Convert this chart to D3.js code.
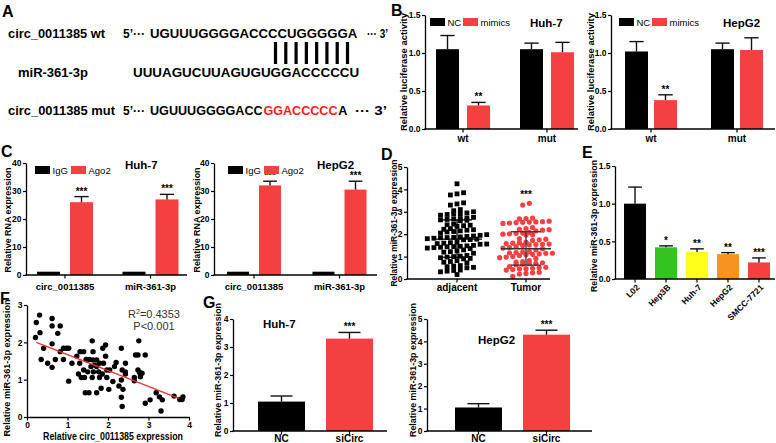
<!DOCTYPE html>
<html><head><meta charset="utf-8">
<script src="https://cdn.jsdelivr.net/npm/d3@7"></script>
<style>
body{margin:0;background:#fff}
svg{display:block;font-family:"Liberation Sans",Arial,sans-serif}
</style></head><body>
<svg id="c" width="776" height="443"></svg>
<script>
// ---------------- DATA ----------------
// Panel A sequences
const seqWt = "UGUUUGGGGACCCCUGGGGGA";
const seqMir = "UUUAGUCUUAGUGUGGACCCCCU";
const seqMut = ["UGUUUGGGGACC", "GGACCCCC", "A"];

// Panel B luciferase
const bGroups = ["wt", "mut"];
const bSeries = ["NC", "mimics"];
const bHuhNC = [1.05, 1.05], bHuhNCErr = [1.23, 1.13];
const bHuhMim = [0.31, 1.01], bHuhMimErr = [0.35, 1.14];
const bHepNC = [1.02, 1.05], bHepNCErr = [1.15, 1.13];
const bHepMim = [0.38, 1.04], bHepMimErr = [0.45, 1.20];
const bStars = ["**", ""];
const bTicks = [0, 0.5, 1.0, 1.5];

// Panel C RIP
const cGroups = ["circ_0011385", "miR-361-3p"];
const cSeries = ["IgG", "Ago2"];
const cHuhIgG = [1.0, 1.0];
const cHuhAgo = [26, 27], cHuhAgoErr = [28, 28.8];
const cHepIgG = [1.0, 1.0];
const cHepAgo = [32, 30.5], cHepAgoErr = [33.5, 33.5];
const cStars = ["***", "***"];
const cTicks = [0, 10, 20, 30, 40];

// Panel D tissue scatter
const dGroups = ["adjacent", "Tumor"];
const dAdjacent = [4.25,3.85,3.8,3.75,3.4,3.35,3.3,3.1,3.05,3.0,2.95,2.92,2.9,2.88,2.85,2.75,2.72,2.7,2.68,2.66,2.64,2.62,2.6,2.45,2.42,2.4,2.38,2.35,2.25,2.22,2.2,2.18,2.15,2.12,2.1,2.05,1.98,1.95,1.92,1.9,1.88,1.86,1.85,1.84,1.82,1.8,1.78,1.76,1.75,1.65,1.62,1.6,1.58,1.56,1.55,1.5,1.48,1.46,1.45,1.44,1.42,1.4,1.38,1.36,1.3,1.25,1.22,1.2,1.15,1.05,1.02,1.0,0.98,0.95,0.92,0.9,0.82,0.78,0.75,0.72,0.6,0.58,0.55,0.52,0.5,0.4,0.38,0.35,0.32,0.2];
const dTumor = [3.38,3.3,2.72,2.7,2.68,2.58,2.56,2.55,2.54,2.53,2.52,2.5,2.48,2.3,2.25,2.22,2.2,2.18,2.15,2.08,2.05,2.04,2.02,2.0,1.98,1.96,1.8,1.78,1.75,1.72,1.65,1.62,1.6,1.58,1.56,1.55,1.54,1.52,1.5,1.45,1.4,1.38,1.35,1.3,1.22,1.2,1.18,1.16,1.15,1.14,1.12,1.1,1.08,1.05,1.0,0.98,0.95,0.92,0.82,0.78,0.75,0.72,0.7,0.68,0.66,0.64,0.55,0.52,0.5,0.48,0.46,0.45,0.42,0.4,0.3,0.28,0.25,0.22,0.12];
const dMean = [1.78, 1.35];
const dSdLow = [0.97, 0.62];
const dSdHigh = [2.64, 2.11];
const dTicks = [0, 1, 2, 3, 4, 5];

// Panel E cell lines
const eCells = ["L02", "Hep3B", "Huh-7", "HepG2", "SMCC-7721"];
const eValues = [1.0, 0.42, 0.36, 0.33, 0.22];
const eErr = [1.22, 0.44, 0.40, 0.35, 0.28];
const eStars = ["", "*", "**", "**", "***"];
const eColors = ["#000000", "#33c41f", "#ffff1a", "#f7931e", "#f44040"];
const eTicks = [0, 0.5, 1.0, 1.5];

// Panel F correlation
const fPoints = [[0.23,2.53],[0.31,2.73],[0.21,2.13],[0.32,2.26],[0.41,1.84],[0.35,1.54],[0.51,1.44],[0.62,2.64],[0.62,2.44],[0.62,1.96],[0.62,1.33],[0.70,1.54],[0.76,2.24],[0.82,2.44],[0.82,1.75],[0.90,1.84],[0.90,1.54],[0.97,1.84],[1.03,1.84],[1.03,0.96],[1.11,1.44],[1.23,1.63],[1.31,1.75],[1.40,1.75],[1.27,1.15],[1.34,1.06],[1.30,1.44],[1.42,1.06],[1.44,0.65],[1.53,0.65],[1.40,1.26],[1.50,1.21],[1.61,2.04],[1.63,1.75],[1.63,1.53],[1.58,1.35],[1.67,1.39],[1.64,1.21],[1.61,1.06],[1.72,1.53],[1.72,1.35],[1.79,1.44],[1.77,1.21],[1.79,1.06],[1.72,0.65],[1.83,0.77],[1.87,1.84],[1.94,1.93],[1.89,1.44],[1.94,1.63],[1.97,1.26],[1.97,1.06],[1.86,1.15],[2.04,1.26],[2.02,0.74],[2.12,0.95],[2.20,1.46],[2.27,0.83],[2.33,1.84],[2.35,1.26],[2.33,0.99],[2.33,0.53],[2.37,0.74],[2.35,0.28],[2.43,1.44],[2.43,1.21],[2.43,1.15],[2.65,1.06],[2.65,0.97],[2.68,1.66],[2.74,1.66],[2.76,2.04],[2.74,1.26],[2.78,1.19],[2.80,1.08],[2.84,1.17],[2.92,1.66],[2.92,0.37],[3.04,0.46],[3.19,0.65],[3.27,0.54],[3.34,0.46],[3.31,0.16],[3.85,0.54],[3.77,0.47],[3.83,0.47],[1.54,1.54],[1.46,1.54],[2.16,1.35],[3.63,0.56]];
const fFit = [[0.23, 2.0], [3.75, 0.5]];
const fXTicks = [0, 1, 2, 3, 4];
const fYTicks = [0, 1, 2, 3];

// Panel G knockdown
const gGroups = ["NC", "siCirc"];
const gHuh = [1.05, 3.3], gHuhErr = [1.25, 3.52];
const gHep = [1.05, 4.3], gHepErr = [1.22, 4.5];
const gStars = ["", "***"];
const gHuhTicks = [0, 1, 2, 3, 4];
const gHepTicks = [0, 1, 2, 3, 4, 5];

// ---------------- DRAWING ----------------
const RED = "#f44040";
const FONT = '"Liberation Sans",Arial,sans-serif';
const svg = d3.select("#c");

function txt(x, y, s, o = {}) {
  const t = svg.append("text").attr("x", x).attr("y", y).text(s)
    .attr("font-size", o.size || 10).attr("font-weight", o.weight || "bold")
    .attr("fill", o.fill || "#000").attr("text-anchor", o.anchor || "start");
  if (o.len) t.attr("textLength", o.len).attr("lengthAdjust", "spacingAndGlyphs");
  if (o.rot) t.attr("transform", `rotate(${o.rot},${x},${y})`);
  return t;
}

function yAxis(x, y, ticks, fmt) {
  const g = svg.append("g").attr("transform", `translate(${x},0)`)
    .call(d3.axisLeft(y).tickValues(ticks).tickFormat(fmt).tickSize(3).tickSizeOuter(0).tickPadding(1.5));
  g.attr("font-family", FONT);
  g.select(".domain").attr("stroke", "#000").attr("stroke-width", 1.3);
  g.selectAll(".tick line").attr("stroke", "#000").attr("stroke-width", 1.2);
  g.selectAll(".tick text").attr("font-size", 8.5).attr("font-weight", "bold").attr("fill", "#000");
}

function xAxis(x0, x1, y0, positions, labels, labelY, size) {
  svg.append("line").attr("x1", x0 - 0.6).attr("x2", x1).attr("y1", y0).attr("y2", y0)
    .attr("stroke", "#000").attr("stroke-width", 1.3);
  svg.append("g").selectAll("line").data(positions).join("line")
    .attr("x1", d => d).attr("x2", d => d).attr("y1", y0).attr("y2", y0 + 3.5)
    .attr("stroke", "#000").attr("stroke-width", 1.2);
  if (labels) svg.append("g").selectAll("text").data(labels).join("text")
    .attr("x", (d, i) => positions[i]).attr("y", labelY).text(d => d)
    .attr("text-anchor", "middle").attr("font-size", size || 9.5).attr("font-weight", "bold");
}

function bars(xs, vals, errs, y, w, color, stars, cap) {
  const g = svg.append("g");
  g.selectAll("rect").data(vals).join("rect")
    .attr("x", (d, i) => xs[i] - w / 2).attr("width", w)
    .attr("y", d => y(d)).attr("height", d => y(0) - y(d))
    .attr("fill", color);
  const c = cap || Math.min(w * 0.62, 16);
  g.selectAll(".ev").data(errs).join("line").attr("class", "ev")
    .attr("x1", (d, i) => xs[i]).attr("x2", (d, i) => xs[i])
    .attr("y1", (d, i) => y(vals[i])).attr("y2", d => y(d))
    .attr("stroke", "#111").attr("stroke-width", 1.4);
  g.selectAll(".ec").data(errs).join("line").attr("class", "ec")
    .attr("x1", (d, i) => xs[i] - c / 2).attr("x2", (d, i) => xs[i] + c / 2)
    .attr("y1", d => y(d)).attr("y2", d => y(d))
    .attr("stroke", "#111").attr("stroke-width", 1.4);
  if (stars) g.selectAll(".st").data(stars).join("text").attr("class", "st")
    .attr("x", (d, i) => xs[i]).attr("y", (d, i) => y(errs[i]) - 2).text(d => d)
    .attr("text-anchor", "middle").attr("font-size", 10).attr("font-weight", "bold");
}

function legend(y, items) {
  items.forEach(it => {
    svg.append("rect").attr("x", it.x).attr("y", y).attr("width", 15).attr("height", 8).attr("fill", it.color);
    txt(it.x + 17.5, y + 8, it.label, { size: 9.5, weight: "normal" });
  });
}

// Panel letters
[["A", 2, 17], ["B", 391, 16], ["C", 1, 157], ["D", 381, 160], ["E", 582, 158], ["F", 0, 304], ["G", 203, 308]]
  .forEach(([s, x, y]) => txt(x, y, s, { size: 16 }));

// ---------- Panel A ----------
txt(8, 38, "circ_0011385 wt", { size: 12.5, len: 97 });
txt(18, 77, "miR-361-3p", { size: 12.5, len: 70 });
txt(8, 115, "circ_0011385 mut", { size: 12.5, len: 107 });
[38, 115].forEach(y => { txt(123, y, "5’···", { size: 12.5, len: 22 }); });
txt(367, 38, "··· 3’", { size: 12.5, len: 21 });
txt(355, 115, "··· 3’", { size: 12.5, len: 32 });
txt(150, 38, seqWt, { size: 13.2 });
txt(133, 77, seqMir, { size: 13.4 });
{
  const cols = ["#000", "#ff1a1a", "#000"];
  const em = { U: 0.722, G: 0.778, A: 0.722, C: 0.722 };
  const fs = 12.6;
  let x = 150;
  seqMut.forEach((s, i) => {
    txt(x, 115, s, { size: fs, fill: cols[i] });
    x += d3.sum(s.split(""), ch => em[ch]) * fs + 0.7;
  });
  const pairX = d3.scaleLinear().domain([0, 7]).range([275.5, 347.5]);
  svg.append("g").selectAll("rect").data(d3.range(8)).join("rect")
    .attr("x", d => pairX(d) - 1.6).attr("width", 3.2).attr("y", 42).attr("height", 22).attr("fill", "#000");
}

// ---------- Panel B ----------
function panelB(axX, axEnd, c1, c2, off, w, nc, ncE, mi, miE, title, titleX, legX, labX, labLen) {
  const y = d3.scaleLinear().domain([0, 1.5]).range([129, 15]);
  const gx = d3.scalePoint().domain(bGroups).range([c1, c2]);
  const cx = bGroups.map(g => gx(g));
  bars(cx.map(c => c - off), nc, ncE, y, w, "#000", null);
  bars(cx.map(c => c + off), mi, miE, y, w, RED, bStars);
  yAxis(axX, y, bTicks, d3.format(".1f"));
  xAxis(axX, axEnd, 129, cx, bGroups, 142, 10);
  legend(18, [{ x: legX, color: "#000", label: bSeries[0] }, { x: legX + 33, color: RED, label: bSeries[1] }]);
  txt(titleX, 27, title, { size: 11.5 });
  txt(labX, 72, "Relative luciferase activity", { size: 9.5, rot: -90, anchor: "middle", len: labLen });
}
panelB(425, 578, 463, 547, 15.5, 23, bHuhNC, bHuhNCErr, bHuhMim, bHuhMimErr, "Huh-7", 530, 430, 407, 118);
panelB(611, 775, 651, 737, 14.5, 23, bHepNC, bHepNCErr, bHepMim, bHepMimErr, "HepG2", 723, 619, 594, 118);

// ---------- Panel C ----------
function panelC(axX, axEnd, c1, c2, off, w, ig, ag, agE, title, titleX, legX, labX) {
  const y = d3.scaleLinear().domain([0, 40]).range([275, 163]);
  const gx = d3.scalePoint().domain(cGroups).range([c1, c2]);
  const cx = cGroups.map(g => gx(g));
  const igx = cx.map(c => c - off);
  svg.append("g").selectAll("rect").data(ig).join("rect")
    .attr("x", (d, i) => igx[i] - w / 2).attr("width", w)
    .attr("y", d => y(d) - 0.5).attr("height", d => y(0) - y(d) + 0.5).attr("fill", "#000");
  bars(cx.map(c => c + off), ag, agE, y, w, RED, cStars);
  yAxis(axX, y, cTicks, d3.format("d"));
  xAxis(axX, axEnd, 275, cx, cGroups, 290, 9.5);
  legend(166, [{ x: legX, color: "#000", label: cSeries[0] }, { x: legX + 36, color: RED, label: cSeries[1] }]);
  txt(titleX, 169, title, { size: 11.5 });
  txt(labX, 220, "Relative RNA expression", { size: 9.5, rot: -90, anchor: "middle", len: 105 });
}
panelC(26, 187, 65, 150.5, 16.5, 23, cHuhIgG, cHuhAgo, cHuhAgoErr, "Huh-7", 125, 35, 11);
panelC(214, 377, 254, 339.5, 16, 22, cHepIgG, cHepAgo, cHepAgoErr, "HepG2", 317, 228, 200);

// ---------- Panel D ----------
{
  const y = d3.scaleLinear().domain([0, 5]).range([279, 167]);
  const gx = d3.scalePoint().domain(dGroups).range([457, 526]);
  const bin = 0.21, sp = 6.6;
  function swarm(vals, cx) {
    const rows = d3.group(vals.map((v, i) => ({ v, i })), d => Math.round(d.v / bin));
    const out = [];
    for (const [, arr] of rows) {
      arr.sort((a, b) => a.v - b.v);
      const n = arr.length;
      arr.forEach((d, k) => out.push({ v: d.v, x: cx + (k - (n - 1) / 2) * sp }));
    }
    return out;
  }
  const adj = swarm(dAdjacent, gx(dGroups[0]));
  svg.append("g").selectAll("rect").data(adj).join("rect")
    .attr("x", d => d.x - 2.4).attr("y", d => y(d.v) - 2.4).attr("width", 4.8).attr("height", 4.8).attr("fill", "#000");
  const tum = swarm(dTumor, gx(dGroups[1]));
  svg.append("g").selectAll("circle").data(tum).join("circle")
    .attr("cx", d => d.x).attr("cy", d => y(d.v)).attr("r", 2.6).attr("fill", RED);
  dGroups.forEach((g, i) => {
    const cx = gx(g);
    const s = svg.append("g").attr("stroke", i ? "#333" : "#000").attr("stroke-width", 1.3);
    s.append("line").attr("x1", cx - 25).attr("x2", cx + 25).attr("y1", y(dMean[i])).attr("y2", y(dMean[i]));
    s.append("line").attr("x1", cx).attr("x2", cx).attr("y1", y(dSdLow[i])).attr("y2", y(dSdHigh[i]));
    [dSdLow[i], dSdHigh[i]].forEach(v => s.append("line").attr("x1", cx - 15).attr("x2", cx + 15).attr("y1", y(v)).attr("y2", y(v)));
  });
  txt(gx(dGroups[1]), y(3.38) - 5, "***", { size: 10, anchor: "middle" });
  yAxis(407, y, dTicks, d3.format("d"));
  xAxis(407, 550, 279, dGroups.map(g => gx(g)), dGroups, 291, 10);
  txt(397, 223, "Relative miR-361-3p expression", { size: 9.5, rot: -90, anchor: "middle", len: 127 });
}

// ---------- Panel E ----------
{
  const y = d3.scaleLinear().domain([0, 1.5]).range([279, 166]);
  const x = d3.scaleBand().domain(eCells).range([622, 772]).paddingInner(0.26).paddingOuter(0.05);
  const cx = eCells.map(c => x(c) + x.bandwidth() / 2);
  eCells.forEach((c, i) => bars([cx[i]], [eValues[i]], [eErr[i]], y, 22, eColors[i], [eStars[i]]));
  yAxis(615, y, eTicks, d3.format(".1f"));
  xAxis(615, 775, 279, cx, null);
  svg.append("g").selectAll("text").data(eCells).join("text")
    .attr("transform", (d, i) => `translate(${cx[i] + 5},${288}) rotate(-45)`)
    .attr("text-anchor", "end").attr("font-size", 8.5).attr("font-weight", "bold").text(d => d);
  txt(597, 226, "Relative miR-361-3p expression", { size: 9.5, rot: -90, anchor: "middle", len: 132 });
}

// ---------- Panel F ----------
{
  const x = d3.scaleLinear().domain([0, 4]).range([27, 189]);
  const y = d3.scaleLinear().domain([0, 3]).range([417, 305]);
  svg.append("g").selectAll("circle").data(fPoints).join("circle")
    .attr("cx", d => x(d[0])).attr("cy", d => y(d[1])).attr("r", 2.7).attr("fill", "#000");
  svg.append("path").datum(fFit).attr("d", d3.line().x(d => x(d[0])).y(d => y(d[1])))
    .attr("stroke", "#f03030").attr("stroke-width", 1.2).attr("fill", "none");
  yAxis(27, y, fYTicks, d3.format("d"));
  const g = svg.append("g").attr("transform", "translate(0,417)")
    .call(d3.axisBottom(x).tickValues(fXTicks).tickFormat(d3.format("d")).tickSize(3.5).tickSizeOuter(0).tickPadding(1.5));
  g.attr("font-family", FONT);
  g.select(".domain").attr("stroke-width", 1.3);
  g.selectAll(".tick line").attr("stroke-width", 1.2);
  g.selectAll(".tick text").attr("font-size", 8.5).attr("font-weight", "bold");
  const r = txt(154, 318, "", { size: 11, weight: "normal", anchor: "middle", fill: "#333" });
  r.append("tspan").text("R");
  r.append("tspan").text("2").attr("font-size", 7).attr("dy", -4);
  r.append("tspan").text("=0.4353").attr("dy", 4);
  txt(154, 330, "P<0.001", { size: 11, weight: "normal", anchor: "middle", fill: "#333" });
  txt(10, 368, "Relative miR-361-3p expression", { size: 9.5, rot: -90, anchor: "middle", len: 137 });
  txt(113, 440, "Relative circ_0011385 expression", { size: 10, anchor: "middle", len: 140 });
}

// ---------- Panel G ----------
function panelG(axX, axEnd, c1, c2, vals, errs, top, ticks, title, tx, ty, labX) {
  const y = d3.scaleLinear().domain([0, top]).range([431, 319]);
  const gx = d3.scalePoint().domain(gGroups).range([c1, c2]);
  const cx = gGroups.map(g => gx(g));
  bars([cx[0]], [vals[0]], [errs[0]], y, 47, "#000", [gStars[0]], 22);
  bars([cx[1]], [vals[1]], [errs[1]], y, 47, RED, [gStars[1]], 22);
  yAxis(axX, y, ticks, d3.format("d"));
  xAxis(axX, axEnd, 431, cx, gGroups, 441.5, 10);
  txt(tx, ty, title, { size: 11.5 });
  txt(labX, 370, "Relative miR-361-3p expression", { size: 9.5, rot: -90, anchor: "middle", len: 134 });
}
panelG(233, 387, 281.5, 349.5, gHuh, gHuhErr, 4, gHuhTicks, "Huh-7", 263, 328, 221);
panelG(427, 592, 478.5, 546.5, gHep, gHepErr, 5, gHepTicks, "HepG2", 478, 344, 416);
</script>
</body></html>
